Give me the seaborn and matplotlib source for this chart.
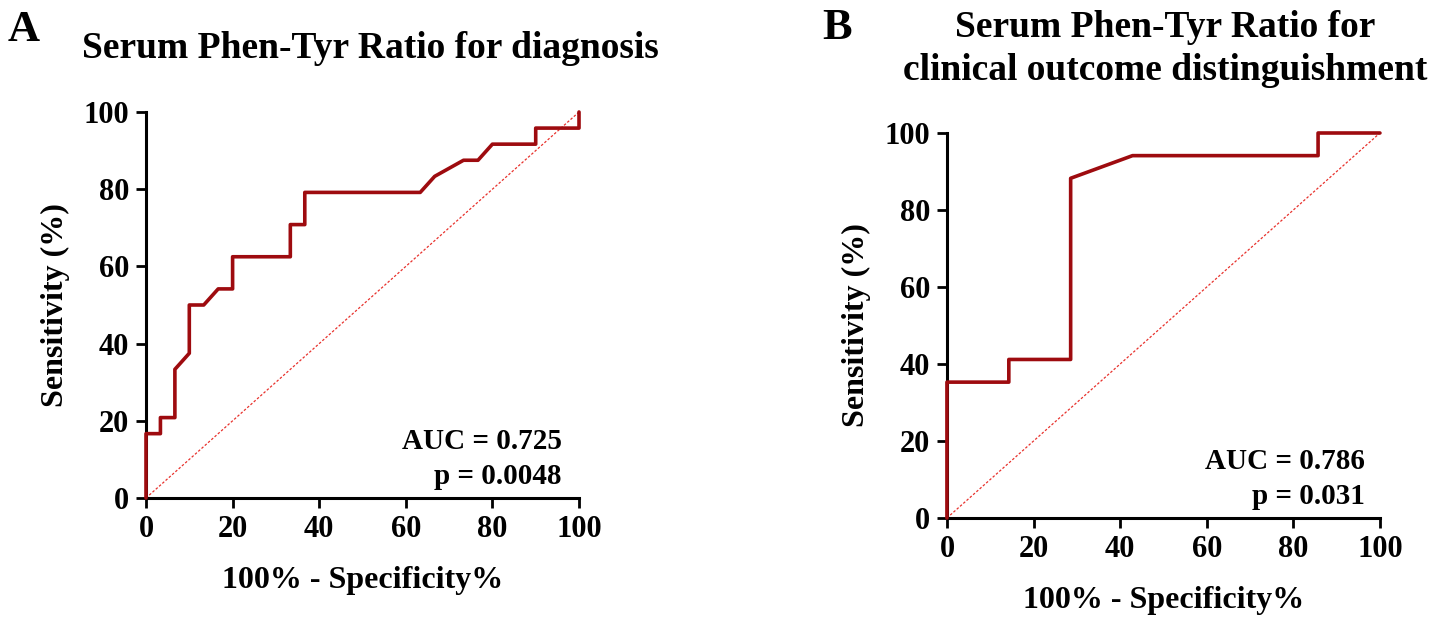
import numpy as np
import pandas as pd
import matplotlib
matplotlib.use("Agg")
from matplotlib import pyplot as plt
import seaborn as sns

sns.set_theme(style="ticks")
plt.rcParams['font.family'] = ['Liberation Serif', 'DejaVu Serif']
plt.rcParams['font.weight'] = 'bold'
plt.rcParams['axes.labelweight'] = 'bold'
plt.rcParams['text.color'] = 'black'
plt.rcParams['axes.labelcolor'] = 'black'
plt.rcParams['xtick.color'] = 'black'
plt.rcParams['ytick.color'] = 'black'

# ROC curve A (diagnosis)
fpr_a = [0, 0, 3.33, 3.33, 6.67, 6.67, 10, 10, 13.33, 16.67, 20, 20, 33.33, 33.33,
         36.67, 36.67, 63.33, 66.67, 73.33, 76.67, 80, 90, 90, 100, 100]
tpr_a = [0, 16.67, 16.67, 20.83, 20.83, 33.33, 37.5, 50, 50, 54.17, 54.17, 62.5, 62.5, 70.83,
         70.83, 79.17, 79.17, 83.33, 87.5, 87.5, 91.67, 91.67, 95.83, 95.83, 100]

# ROC curve B (clinical outcome)
fpr_b = [0, 0, 14.29, 14.29, 28.57, 28.57, 42.86, 85.71, 85.71, 100]
tpr_b = [0, 35.29, 35.29, 41.18, 41.18, 88.24, 94.12, 94.12, 100, 100]

ticks = [0, 20, 40, 60, 80, 100]
auc_text = ["AUC = 0.725\np = 0.0048", "AUC = 0.786\np = 0.031"]
titles = ["Serum Phen-Tyr Ratio for diagnosis",
          "Serum Phen-Tyr Ratio for\nclinical outcome distinguishment"]
letters = ["A", "B"]

curve_color = "#9e0b0f"
diag_color = "#e8312c"

fig = plt.figure(figsize=(14.3, 6.25), dpi=100)
ax_a = fig.add_axes([0.1021, 0.2032, 0.3028, 0.6176])
ax_b = fig.add_axes([0.6622, 0.1712, 0.3028, 0.6160])

panels = [(ax_a, fpr_a, tpr_a, 0.96), (ax_b, fpr_b, tpr_b, 0.965)]
for i, (ax, fx, ty, xr) in enumerate(panels):
    df = pd.DataFrame({'fpr': fx, 'tpr': ty})
    ax.plot([0, 100], [0, 100], color=diag_color, lw=0.9, ls=(0, (2, 1.5)), zorder=2)
    sns.lineplot(data=df, x='fpr', y='tpr', sort=False, estimator=None, ax=ax,
                 color=curve_color, lw=2.6, zorder=3, clip_on=False)
    ax.set_xlim(0, 100)
    ax.set_ylim(0, 100)
    ax.set_xticks(ticks)
    ax.set_yticks(ticks)
    ax.tick_params(width=2, length=7, labelsize=22, pad=5, color='black')
    for lab in ax.get_xticklabels() + ax.get_yticklabels():
        lab.set_fontweight('bold')
    for side in ['top', 'right']:
        ax.spines[side].set_visible(False)
    for side in ['left', 'bottom']:
        ax.spines[side].set_linewidth(2.2)
        ax.spines[side].set_color('black')
    ax.set_xlabel("100% - Specificity%", fontsize=23, fontweight='bold', labelpad=16)
    ax.set_ylabel("Sensitivity (%)", fontsize=23, fontweight='bold', labelpad=10)
    ax.text(xr, 0.02, auc_text[i], transform=ax.transAxes, ha='right', va='bottom',
            fontsize=21, fontweight='bold', linespacing=1.4)

# titles and panel letters
fig.text(370 / 1430, 1 - 48 / 625, titles[0], ha='center', va='center',
         fontsize=27, fontweight='bold')
fig.text(1165 / 1430, 1 - 49 / 625, titles[1], ha='center', va='center',
         fontsize=27, fontweight='bold', linespacing=1.3)
fig.text(8 / 1430, 1 - 30 / 625, letters[0], ha='left', va='center', fontsize=32, fontweight='bold')
fig.text(822 / 1430, 1 - 28 / 625, letters[1], ha='left', va='center', fontsize=32, fontweight='bold')

fig.savefig("out.png", dpi=100)
